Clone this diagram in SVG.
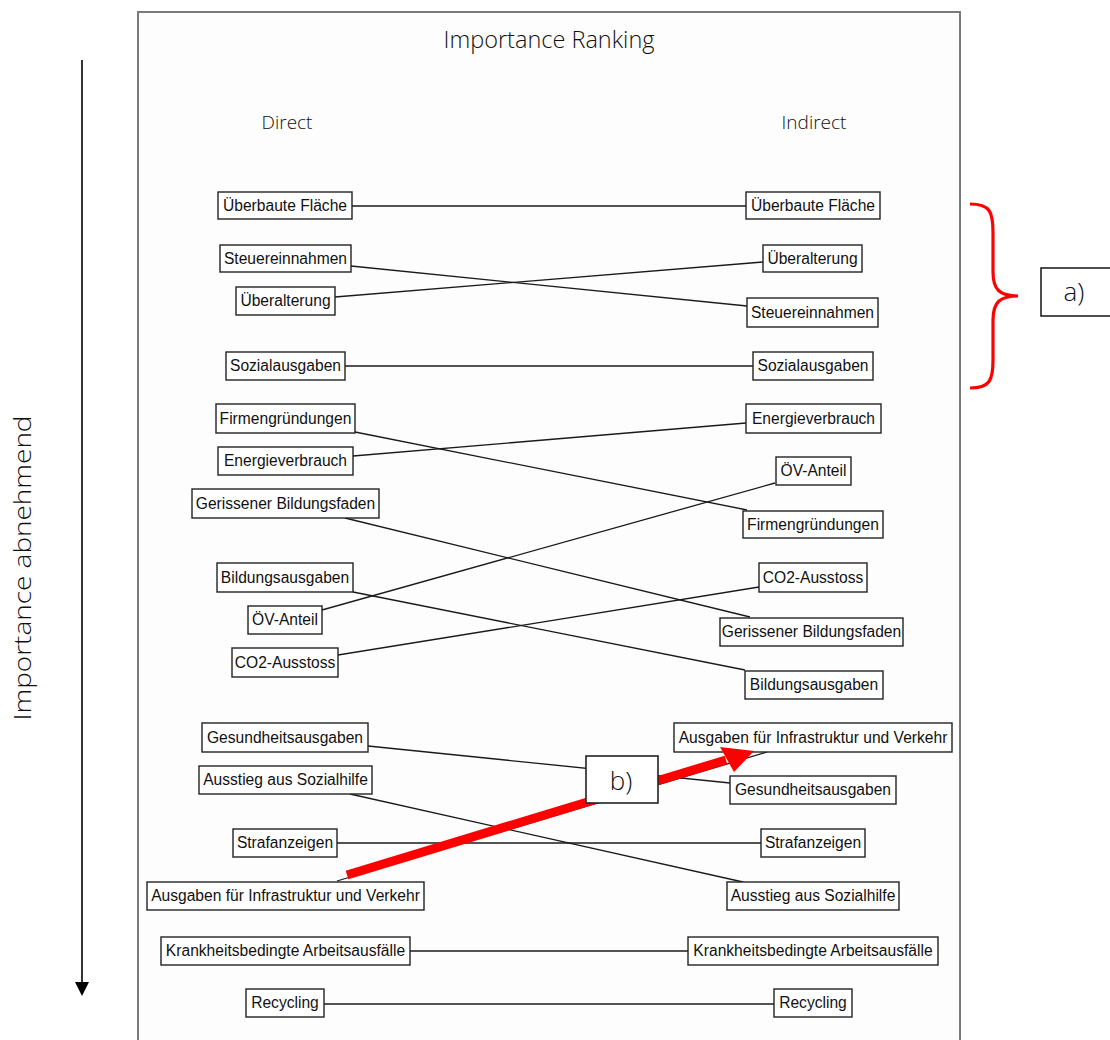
<svg xmlns="http://www.w3.org/2000/svg" width="1110" height="1040" viewBox="0 0 1110 1040">
  <style>
    .frame { fill: #fdfdfd; stroke: #7a7a7a; stroke-width: 2; }
    .node rect { fill: #ffffff; stroke: #222222; stroke-width: 1.4; }
    .node text { font-family: "Liberation Sans", Arial, sans-serif; font-size: 15.6px; fill: #111111; text-anchor: middle; }
    .head { font-family: "Open Sans", "Liberation Sans", sans-serif; font-weight: 300; fill: #111111; }
    .links line { stroke: #1a1a1a; stroke-width: 1.3; }
    .callout rect { fill: #ffffff; stroke: #222222; stroke-width: 1.6; }
    .callout text { font-family: "Open Sans", "Liberation Sans", sans-serif; font-weight: 300; font-size: 26px; fill: #111111; text-anchor: middle; }
  </style>
  <defs>
    <marker id="axisHead" markerWidth="14" markerHeight="14" refX="2" refY="7" orient="auto" markerUnits="userSpaceOnUse" viewBox="0 0 14 14">
      <path d="M0,0 L14,7 L0,14 Z" fill="#000000"/>
    </marker>
  </defs>

  <rect width="1110" height="1040" fill="#ffffff"/>

  <!-- panel -->
  <rect class="frame" x="138" y="12" width="822" height="1040"/>
  <text class="head" x="549" y="48" font-size="23.5" text-anchor="middle">Importance Ranking</text>
  <text class="head" x="287" y="129" font-size="19" text-anchor="middle">Direct</text>
  <text class="head" x="814" y="129" font-size="19" text-anchor="middle">Indirect</text>

  <!-- ranking axis -->
  <g id="axis">
    <line x1="82" y1="60" x2="82" y2="984" stroke="#000000" stroke-width="1.6" marker-end="url(#axisHead)"/>
    <text class="head" transform="translate(31,568) rotate(-90)" font-size="24" text-anchor="middle" textLength="305" lengthAdjust="spacingAndGlyphs">Importance abnehmend</text>
  </g>

  <!-- connectors between the two rankings -->
  <g id="connectors" class="links">
    <line x1="352" y1="206" x2="746" y2="206"/>
    <line x1="351" y1="266" x2="747" y2="306"/>
    <line x1="335" y1="297" x2="763" y2="262"/>
    <line x1="345" y1="366" x2="753" y2="366"/>
    <line x1="355" y1="432" x2="747" y2="510"/>
    <line x1="353" y1="456" x2="746" y2="423"/>
    <line x1="345" y1="518" x2="750" y2="617"/>
    <line x1="353" y1="592" x2="745" y2="670"/>
    <line x1="322" y1="610" x2="775" y2="483"/>
    <line x1="338" y1="655" x2="759" y2="587"/>
    <line x1="368" y1="746" x2="730" y2="783"/>
    <line x1="350" y1="794" x2="743" y2="882"/>
    <line x1="337" y1="843" x2="761" y2="843"/>
    <line x1="337" y1="881" x2="767" y2="752"/>
    <line x1="410" y1="951" x2="688" y2="951"/>
    <line x1="324" y1="1004" x2="774" y2="1004"/>
  </g>

  <!-- direct ranking -->
  <g id="d-ueberbaute" class="node"><rect x="218" y="192" width="134" height="27"/><text x="285" y="211">Überbaute Fläche</text></g>
  <g id="d-steuer" class="node"><rect x="220" y="245" width="131" height="27"/><text x="285.5" y="264">Steuereinnahmen</text></g>
  <g id="d-ueberalterung" class="node"><rect x="236" y="287" width="99" height="28"/><text x="285.5" y="306">Überalterung</text></g>
  <g id="d-sozial" class="node"><rect x="226" y="352" width="119" height="28"/><text x="285.5" y="371">Sozialausgaben</text></g>
  <g id="d-firmen" class="node"><rect x="216" y="404" width="139" height="29"/><text x="285.5" y="424">Firmengründungen</text></g>
  <g id="d-energie" class="node"><rect x="218" y="447" width="135" height="28"/><text x="285.5" y="466">Energieverbrauch</text></g>
  <g id="d-gerissen" class="node"><rect x="192" y="489" width="187" height="29"/><text x="285.5" y="509">Gerissener Bildungsfaden</text></g>
  <g id="d-bildung" class="node"><rect x="217" y="563" width="136" height="29"/><text x="285" y="583">Bildungsausgaben</text></g>
  <g id="d-oev" class="node"><rect x="248" y="606" width="74" height="28"/><text x="285" y="625">ÖV-Anteil</text></g>
  <g id="d-co2" class="node"><rect x="232" y="648" width="106" height="29"/><text x="285" y="668">CO2-Ausstoss</text></g>
  <g id="d-gesund" class="node"><rect x="202" y="723" width="166" height="29"/><text x="285" y="743">Gesundheitsausgaben</text></g>
  <g id="d-ausstieg" class="node"><rect x="199" y="766" width="173" height="28"/><text x="285.5" y="785">Ausstieg aus Sozialhilfe</text></g>
  <g id="d-straf" class="node"><rect x="233" y="829" width="104" height="28"/><text x="285" y="848">Strafanzeigen</text></g>
  <g id="d-infra" class="node"><rect x="147" y="882" width="277" height="28"/><text x="285.5" y="901">Ausgaben für Infrastruktur und Verkehr</text></g>
  <g id="d-krank" class="node"><rect x="161" y="937" width="249" height="28"/><text x="285.5" y="956">Krankheitsbedingte Arbeitsausfälle</text></g>
  <g id="d-recycling" class="node"><rect x="246" y="989" width="78" height="28"/><text x="285" y="1008">Recycling</text></g>

  <!-- indirect ranking -->
  <g id="i-ueberbaute" class="node"><rect x="746" y="192" width="134" height="27"/><text x="813" y="211">Überbaute Fläche</text></g>
  <g id="i-ueberalterung" class="node"><rect x="763" y="245" width="99" height="27"/><text x="812.5" y="264">Überalterung</text></g>
  <g id="i-steuer" class="node"><rect x="747" y="298" width="131" height="29"/><text x="812.5" y="318">Steuereinnahmen</text></g>
  <g id="i-sozial" class="node"><rect x="753" y="352" width="120" height="28"/><text x="813" y="371">Sozialausgaben</text></g>
  <g id="i-energie" class="node"><rect x="746" y="404" width="135" height="29"/><text x="813.5" y="424">Energieverbrauch</text></g>
  <g id="i-oev" class="node"><rect x="776" y="457" width="75" height="28"/><text x="813.5" y="476">ÖV-Anteil</text></g>
  <g id="i-firmen" class="node"><rect x="743" y="511" width="140" height="27"/><text x="813" y="530">Firmengründungen</text></g>
  <g id="i-co2" class="node"><rect x="759" y="563" width="108" height="29"/><text x="813" y="583">CO2-Ausstoss</text></g>
  <g id="i-gerissen" class="node"><rect x="720" y="618" width="183" height="28"/><text x="811.5" y="637">Gerissener Bildungsfaden</text></g>
  <g id="i-bildung" class="node"><rect x="745" y="671" width="138" height="28"/><text x="814" y="690">Bildungsausgaben</text></g>
  <g id="i-infra" class="node"><rect x="674" y="723" width="278" height="29"/><text x="813" y="743">Ausgaben für Infrastruktur und Verkehr</text></g>
  <g id="i-gesund" class="node"><rect x="730" y="776" width="166" height="28"/><text x="813" y="795">Gesundheitsausgaben</text></g>
  <g id="i-straf" class="node"><rect x="761" y="829" width="104" height="28"/><text x="813" y="848">Strafanzeigen</text></g>
  <g id="i-ausstieg" class="node"><rect x="727" y="882" width="172" height="28"/><text x="813" y="901">Ausstieg aus Sozialhilfe</text></g>
  <g id="i-krank" class="node"><rect x="688" y="937" width="250" height="28"/><text x="813" y="956">Krankheitsbedingte Arbeitsausfälle</text></g>
  <g id="i-recycling" class="node"><rect x="774" y="989" width="78" height="28"/><text x="813" y="1008">Recycling</text></g>

  <!-- annotation a): brace over the top four ranks -->
  <g id="note-a" class="callout">
    <path d="M970,204 C990,204 993,212 993,232 L993,272 C993,290 1000,296 1018,296 C1000,296 993,302 993,320 L993,360 C993,380 990,388 970,388" fill="none" stroke="#ff0000" stroke-width="3.2"/>
    <rect x="1041" y="268" width="80" height="48"/>
    <text x="1074" y="301">a)</text>
  </g>

  <!-- annotation b): shift of infrastructure spending -->
  <g id="note-b" class="callout">
    <line x1="347" y1="875" x2="726" y2="760" stroke="#ff0000" stroke-width="9"/>
    <path d="M754,751 L720,747 L734,772 Z" fill="#ff0000"/>
    <rect x="586" y="756" width="72" height="47"/>
    <text x="621" y="790">b)</text>
  </g>
</svg>
